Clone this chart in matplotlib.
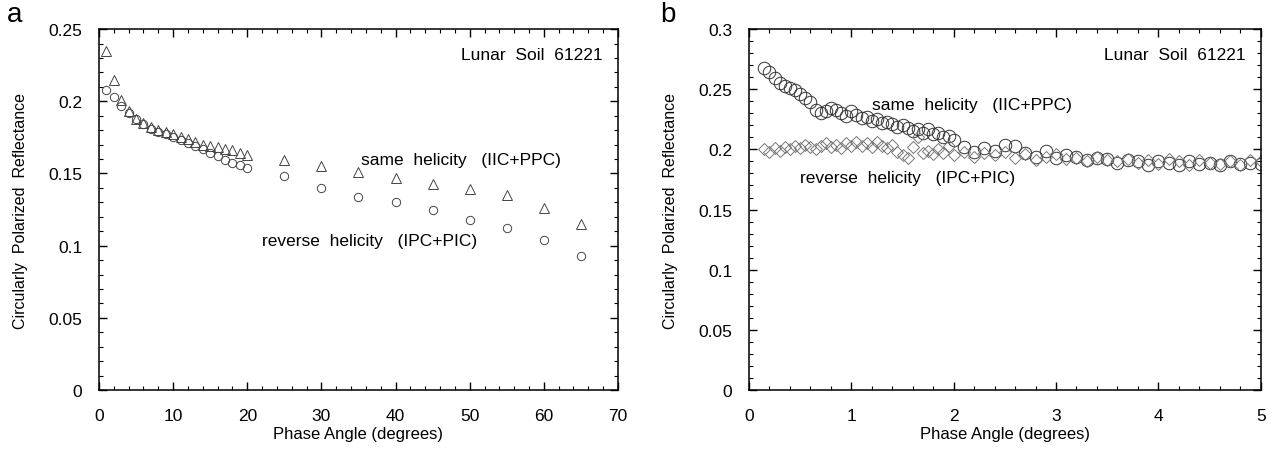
import numpy as np
import matplotlib
matplotlib.use('Agg')
import matplotlib.pyplot as plt
from matplotlib.ticker import MultipleLocator

plt.rcParams['font.family'] = ['Liberation Sans', 'DejaVu Sans']

# panel a: phase angle (deg) and reflectances
angle_a = [1, 2, 3, 4, 5, 6, 7, 8, 9, 10, 11, 12, 13, 14, 15, 16, 17, 18, 19, 20,
           25, 30, 35, 40, 45, 50, 55, 60, 65]
same_a = [0.235, 0.215, 0.201, 0.193, 0.188, 0.185, 0.182, 0.180, 0.179, 0.177,
          0.175, 0.174, 0.172, 0.170, 0.169, 0.168, 0.167, 0.166, 0.164, 0.163,
          0.159, 0.155, 0.151, 0.147, 0.143, 0.139, 0.135, 0.126, 0.115]
rev_a = [0.208, 0.203, 0.197, 0.192, 0.188, 0.184, 0.181, 0.179, 0.177, 0.175,
         0.173, 0.171, 0.169, 0.167, 0.164, 0.162, 0.159, 0.157, 0.156, 0.154,
         0.148, 0.140, 0.134, 0.130, 0.125, 0.118, 0.112, 0.104, 0.093]

# panel b: low phase angles
angle_b = [0.15, 0.20, 0.25, 0.30, 0.35, 0.40, 0.45, 0.50, 0.55, 0.60,
           0.65, 0.70, 0.75, 0.80, 0.85, 0.90, 0.95, 1.00, 1.05, 1.10,
           1.15, 1.20, 1.25, 1.30, 1.35, 1.40, 1.45, 1.50, 1.55, 1.60,
           1.65, 1.70, 1.75, 1.80, 1.85, 1.90, 1.95, 2.00,
           2.1, 2.2, 2.3, 2.4, 2.5, 2.6, 2.7, 2.8, 2.9, 3.0,
           3.1, 3.2, 3.3, 3.4, 3.5, 3.6, 3.7, 3.8, 3.9, 4.0,
           4.1, 4.2, 4.3, 4.4, 4.5, 4.6, 4.7, 4.8, 4.9, 5.0]
same_b = [0.268, 0.264, 0.259, 0.255, 0.253, 0.251, 0.249, 0.246, 0.243, 0.239,
          0.233, 0.230, 0.232, 0.234, 0.233, 0.230, 0.228, 0.232, 0.229, 0.226,
          0.227, 0.224, 0.225, 0.222, 0.223, 0.221, 0.219, 0.220, 0.218, 0.215,
          0.217, 0.214, 0.217, 0.213, 0.214, 0.210, 0.211, 0.208,
          0.202, 0.198, 0.201, 0.199, 0.204, 0.203, 0.197, 0.194, 0.199, 0.193,
          0.195, 0.194, 0.191, 0.193, 0.192, 0.189, 0.191, 0.190, 0.187, 0.190,
          0.189, 0.187, 0.190, 0.188, 0.189, 0.187, 0.190, 0.188, 0.189, 0.188]
rev_b = [0.200, 0.198, 0.201, 0.199, 0.202, 0.200, 0.203, 0.201, 0.204, 0.202,
         0.200, 0.203, 0.205, 0.202, 0.204, 0.201, 0.205, 0.203, 0.206, 0.203,
         0.205, 0.202, 0.206, 0.203, 0.201, 0.204, 0.198, 0.195, 0.193, 0.202,
         0.210, 0.197, 0.199, 0.196, 0.200, 0.197, 0.203, 0.195,
         0.198, 0.194, 0.197, 0.195, 0.198, 0.193, 0.196, 0.191, 0.194, 0.196,
         0.192, 0.193, 0.190, 0.194, 0.191, 0.190, 0.192, 0.189, 0.191, 0.188,
         0.192, 0.190, 0.187, 0.191, 0.189, 0.188, 0.190, 0.187, 0.191, 0.190]

fig = plt.figure(figsize=(12.76, 4.56), dpi=100)
ax1 = fig.add_axes([0.0776, 0.1425, 0.4067, 0.7915])
ax2 = fig.add_axes([0.587, 0.1425, 0.401, 0.7915])

mk = dict(linestyle='none', markerfacecolor='none', markeredgewidth=0.7)

ax1.plot(angle_a, same_a, marker='^', markersize=6.5, markeredgecolor='#444444', **mk)
ax1.plot(angle_a, rev_a, marker='o', markersize=6, markeredgecolor='#444444', **mk)
ax2.plot(angle_b, same_b, marker='o', markersize=9, markeredgecolor='#333333', **mk)
ax2.plot(angle_b, rev_b, marker='D', markersize=6.5, markeredgecolor='#777777', **mk)

ax1.set_xlim(0, 70)
ax1.set_ylim(0, 0.25)
ax1.xaxis.set_major_locator(MultipleLocator(10))
ax1.xaxis.set_minor_locator(MultipleLocator(2))
ax1.yaxis.set_major_locator(MultipleLocator(0.05))
ax1.yaxis.set_minor_locator(MultipleLocator(0.01))

ax2.set_xlim(0, 5)
ax2.set_ylim(0, 0.3)
ax2.xaxis.set_major_locator(MultipleLocator(1))
ax2.xaxis.set_minor_locator(MultipleLocator(0.2))
ax2.yaxis.set_major_locator(MultipleLocator(0.05))
ax2.yaxis.set_minor_locator(MultipleLocator(0.01))

fmt = lambda v, p: '{:g}'.format(round(v, 3))
for ax in (ax1, ax2):
    ax.xaxis.set_major_formatter(fmt)
    ax.yaxis.set_major_formatter(fmt)
    ax.tick_params(which='both', direction='in', top=True, right=True,
                   labelsize=12.5, colors='black')
    ax.tick_params(which='major', length=6, width=1)
    ax.tick_params(which='minor', length=3, width=0.8)
    ax.tick_params(axis='x', pad=13)
    ax.tick_params(axis='y', pad=12)
    for s in ax.spines.values():
        s.set_linewidth(1.1)
    ax.set_xlabel('Phase Angle (degrees)', fontsize=12, labelpad=2)
    ax.set_ylabel('Circularly  Polarized  Reflectance', fontsize=11.5, labelpad=15)
    ax.text(0.97, 0.93, 'Lunar  Soil  61221', transform=ax.transAxes,
            ha='right', va='center', fontsize=12.5)

ax1.text(35.4, 0.160, 'same  helicity   (IIC+PPC)', fontsize=12.5, va='center')
ax1.text(22.0, 0.1035, 'reverse  helicity   (IPC+PIC)', fontsize=12.5, va='center')
ax2.text(1.2, 0.2375, 'same  helicity   (IIC+PPC)', fontsize=12.5, va='center')
ax2.text(0.5, 0.1767, 'reverse  helicity   (IPC+PIC)', fontsize=12.5, va='center')

fig.text(15 / 1276, 1 - 15 / 456, 'a', fontsize=20, ha='center', va='center')
fig.text(668 / 1276, 1 - 15 / 456, 'b', fontsize=20, ha='center', va='center')

fig.savefig('out.png', dpi=100)
